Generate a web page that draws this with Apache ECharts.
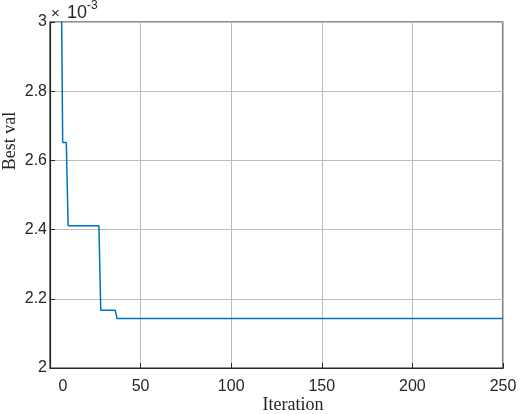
<!DOCTYPE html>
<html><head><meta charset="utf-8">
<script src="https://cdn.jsdelivr.net/npm/echarts@6/dist/echarts.min.js"></script>
<style>html,body{margin:0;padding:0;background:#fff}#c{width:526px;height:414px}</style>
</head><body><div id="c"></div>
<script>
// Step-line vertices (iteration, best value)
const iterations = [1, 6, 7, 9, 10, 27, 28, 36, 37, 250];
const bestVal = [0.00328, 0.00328, 0.002652, 0.002652, 0.002411, 0.002411, 0.002167, 0.002167, 0.002143, 0.002143];
const xTicks = [0, 50, 100, 150, 200, 250];
const yTicks = [2, 2.2, 2.4, 2.6, 2.8, 3];
const xName = 'Iteration';
const yName = 'Best val';

const data = iterations.map((it, i) => [it, bestVal[i]]);
const chart = echarts.init(document.getElementById('c'));
chart.setOption({
  animation: false,
  grid: {left: 50, right: 23, top: 22, bottom: 46, containLabel: false, outerBoundsMode: 'none',
    show: true, borderColor: '#262626', borderWidth: 1.2, backgroundColor: 'transparent'},
  xAxis: {
    type: 'value', min: 0, max: 250, interval: 50,
    axisLine: {show: true, lineStyle: {color: '#262626', width: 1.2}},
    axisTick: {show: true, inside: true, length: 5, lineStyle: {color: '#262626'}},
    axisLabel: {margin: 11, fontFamily: 'Liberation Sans', fontSize: 16, color: '#262626',
      formatter: v => xTicks.includes(v) ? (v === 0 ? '{z|0}' : String(v)) : '',
      rich: {z: {fontFamily: 'Liberation Sans', fontSize: 16, color: '#262626', padding: [0, 0, 0, 26]}}},
    splitLine: {show: true, lineStyle: {color: '#bdbdbd', width: 1}}
  },
  yAxis: {
    type: 'value', min: 0.002, max: 0.003, interval: 0.0002,
    axisLine: {show: true, lineStyle: {color: '#262626', width: 1.2}},
    axisTick: {show: true, inside: true, length: 5, lineStyle: {color: '#262626'}},
    axisLabel: {margin: 3, fontFamily: 'Liberation Sans', fontSize: 16, color: '#262626',
      formatter: v => { const t = Math.round(v * 10000) / 10; return yTicks.includes(t) ? String(t) : ''; }},
    splitLine: {show: true, lineStyle: {color: '#bdbdbd', width: 1}}
  },
  graphic: [{
    type: 'text', left: 51, top: 0,
    style: {
      text: '{x|×} {b|10}{s|-3}',
      rich: {
        x: {fontFamily: 'Liberation Sans', fontSize: 15, fill: '#262626', padding: [6, 4, 0, 0]},
        b: {fontFamily: 'Liberation Sans', fontSize: 18, fill: '#262626', padding: [4, 0, 0, 0]},
        s: {fontFamily: 'Liberation Sans', fontSize: 12, fill: '#262626', verticalAlign: 'top', padding: [0, 0, 8, 0]}
      }
    }
  }, {
    type: 'text', x: 293, y: 405,
    style: {text: xName, fontFamily: 'Liberation Serif', fontSize: 18, fill: '#262626', align: 'center', verticalAlign: 'middle'}
  }, {
    type: 'text', x: 10, y: 141, rotation: Math.PI / 2,
    style: {text: yName, fontFamily: 'Liberation Serif', fontSize: 18, fill: '#262626', align: 'center', verticalAlign: 'middle'}
  }],
  series: [{
    type: 'line', data: data, showSymbol: false, clip: true,
    lineStyle: {color: '#0072BD', width: 1.5}
  }]
});
</script></body></html>
